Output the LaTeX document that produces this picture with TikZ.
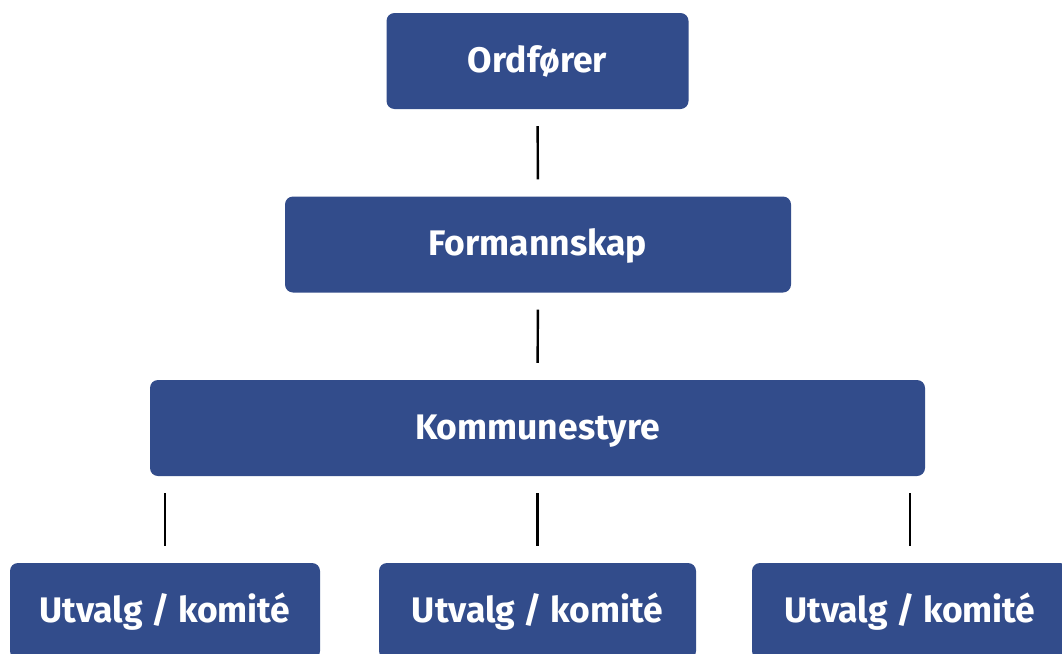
\documentclass[tikz,border=0pt]{standalone}
\usepackage{fontspec}
\setmainfont{Fira Sans}
\definecolor{boxblue}{RGB}{50,76,139}
\begin{document}
\begin{tikzpicture}[x=1pt,y=-1pt,
  orgbox/.style={rectangle, fill=boxblue, rounded corners=8pt, text=white,
    font=\fontsize{35.5}{40}\selectfont\bfseries, inner sep=0pt,
    text height=24pt, text depth=2pt, minimum height=96pt},
  link/.style={draw=black, line width=2.4pt, shorten <=17pt, shorten >=17pt}]
\useasboundingbox (0,0) rectangle (1062,653);
\node[orgbox, minimum width=302pt] (ord) at (537.5,61) {Ordfører};
\node[orgbox, minimum width=506pt] (form) at (538,244.5) {Formannskap};
\node[orgbox, minimum width=775pt] (komm) at (537.5,428) {Kommunestyre};
\node[orgbox, minimum width=310pt] (u1) at (165,611) {Utvalg / komité};
\node[orgbox, minimum width=317pt] (u2) at (537.5,611) {Utvalg / komité};
\node[orgbox, minimum width=316pt] (u3) at (910,611) {Utvalg / komité};
\draw[link] (ord.south) -- (form.north);
\draw[link] (form.south) -- (komm.north);
\draw[link] (komm.south -| u1.north) -- (u1.north);
\draw[link] (komm.south -| u2.north) -- (u2.north);
\draw[link] (komm.south -| u3.north) -- (u3.north);
\end{tikzpicture}
\end{document}
